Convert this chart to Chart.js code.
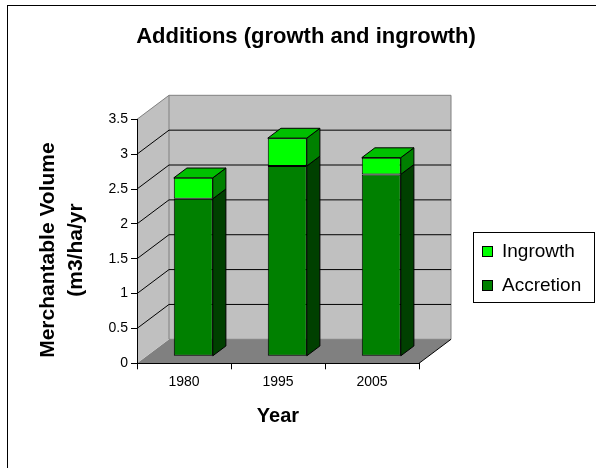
<!DOCTYPE html>
<html>
<head>
<meta charset="utf-8">
<script src="https://cdn.jsdelivr.net/npm/chart.js@4.4.0/dist/chart.umd.min.js"></script>
<style>
  html, body { margin: 0; padding: 0; background: #fff; }
</style>
</head>
<body>
<canvas id="myChart" width="596" height="468"></canvas>
<script>
const years = ['1980', '1995', '2005'];
const accretion = [2.26, 2.73, 2.61];
const ingrowth = [0.30, 0.40, 0.24];
const yMax = 3.5;
const yStep = 0.5;

const FONT = "'Liberation Sans', Arial, sans-serif";
const DX = 32, DY = -24;                  // depth of the 3d box
const BAR_FRONT = 0.29, BAR_BACK = 0.70;  // bar depth as a fraction of the box

function poly(ctx, pts, fill, stroke) {
  ctx.beginPath();
  ctx.moveTo(pts[0][0], pts[0][1]);
  for (let i = 1; i < pts.length; i++) ctx.lineTo(pts[i][0], pts[i][1]);
  ctx.closePath();
  if (fill) { ctx.fillStyle = fill; ctx.fill(); }
  if (stroke) { ctx.strokeStyle = stroke; ctx.lineWidth = 1; ctx.stroke(); }
}

function line(ctx, pts, color) {
  ctx.beginPath();
  ctx.moveTo(pts[0][0], pts[0][1]);
  for (let i = 1; i < pts.length; i++) ctx.lineTo(pts[i][0], pts[i][1]);
  ctx.strokeStyle = color; ctx.lineWidth = 1; ctx.stroke();
}

const box3d = {
  id: 'box3d',
  beforeDraw(chart) {
    const {ctx, chartArea: a, scales: {y}} = chart;
    const L = a.left, R = a.right;
    const top = y.getPixelForValue(yMax), bot = y.getPixelForValue(0);
    ctx.save();
    // chart border
    ctx.strokeStyle = '#000';
    ctx.strokeRect(7.5, 5.5, 620, 500);
    // floor, side wall, back wall
    poly(ctx, [[L, bot], [R, bot], [R + DX, bot + DY], [L + DX, bot + DY]], '#808080', null);
    poly(ctx, [[L, bot], [L, top], [L + DX, top + DY], [L + DX, bot + DY]], '#c0c0c0', null);
    poly(ctx, [[L + DX, top + DY], [R + DX, top + DY], [R + DX, bot + DY], [L + DX, bot + DY]], '#c0c0c0', '#808080');
    line(ctx, [[L, top], [L + DX, top + DY]], '#808080');
    // grid lines on the side and back walls
    for (let v = yStep; v < yMax - 1e-9; v += yStep) {
      const py = y.getPixelForValue(v);
      line(ctx, [[L, py], [L + DX, py + DY], [R + DX, py + DY]], '#000');
    }
    line(ctx, [[R, bot], [R + DX, bot + DY]], '#000');
    ctx.restore();
  },
  beforeDatasetsDraw(chart) {
    const {ctx} = chart;
    const fx = DX * BAR_FRONT, fy = DY * BAR_FRONT;
    const bx = DX * (BAR_BACK - BAR_FRONT), by = DY * (BAR_BACK - BAR_FRONT);
    const last = chart.data.datasets.length - 1;
    ctx.save();
    chart.data.datasets.forEach((ds, di) => {
      chart.getDatasetMeta(di).data.forEach(bar => {
        const {x, y, base, width} = bar.getProps(['x', 'y', 'base', 'width'], true);
        const l = x - width / 2 + fx, r = x + width / 2 + fx;
        const t = y + fy, b = base + fy;
        poly(ctx, [[r, t], [r + bx, t + by], [r + bx, b + by], [r, b]], ds.sideColor, '#000');
        if (di === last) {
          poly(ctx, [[l, t], [r, t], [r + bx, t + by], [l + bx, t + by]], ds.topColor, '#000');
        }
      });
    });
    ctx.restore();
    // front faces are drawn by Chart.js, pushed back into the box
    ctx.save();
    ctx.translate(fx, fy);
  },
  afterDatasetsDraw(chart) {
    chart.ctx.restore();
  },
  afterDraw(chart) {
    const {ctx} = chart;
    ctx.save();
    ctx.fillStyle = '#fff';
    ctx.fillRect(473.5, 232.5, 121, 70);
    ctx.strokeStyle = '#000';
    ctx.strokeRect(473.5, 232.5, 121, 70);
    const items = chart.data.datasets.slice().reverse();
    items.forEach((ds, i) => {
      const cy = 250.5 + i * 34.5;
      ctx.fillStyle = ds.backgroundColor;
      ctx.fillRect(482.5, Math.round(cy - 5) + 0.5, 10, 10);
      ctx.strokeRect(482.5, Math.round(cy - 5) + 0.5, 10, 10);
      ctx.fillStyle = '#000';
      ctx.font = '19px ' + FONT;
      ctx.textBaseline = 'middle';
      ctx.textAlign = 'left';
      ctx.fillText(ds.label, 502, cy + 1);
    });
    ctx.restore();
  }
};

Chart.defaults.font.family = FONT;
Chart.defaults.color = '#000';

new Chart(document.getElementById('myChart'), {
  type: 'bar',
  data: {
    labels: years,
    datasets: [{
      label: 'Accretion',
      data: accretion,
      backgroundColor: '#008000',
      sideColor: '#004000',
      topColor: '#006000',
      borderColor: '#000',
      borderWidth: 1,
      borderSkipped: false
    }, {
      label: 'Ingrowth',
      data: ingrowth,
      backgroundColor: '#00ff00',
      sideColor: '#008000',
      topColor: '#00c000',
      borderColor: '#000',
      borderWidth: 1,
      borderSkipped: false
    }]
  },
  options: {
    responsive: false,
    animation: false,
    devicePixelRatio: 1,
    barPercentage: 0.415,
    categoryPercentage: 1,
    layout: {
      padding: {left: 16, top: 0, right: 0, bottom: 40}
    },
    scales: {
      x: {
        stacked: true,
        offset: true,
        grid: {
          offset: true,
          drawOnChartArea: false,
          tickLength: 6,
          color: '#000'
        },
        border: {color: '#000'},
        ticks: {font: {size: 14}, padding: 4},
        title: {
          display: true,
          text: 'Year',
          font: {size: 20, weight: 'bold', lineHeight: 1.2},
          padding: {top: 0, bottom: 0}
        },
        afterFit(scale) { scale.height = 64.7; }
      },
      y: {
        stacked: true,
        min: 0,
        max: yMax,
        grid: {
          drawOnChartArea: false,
          tickLength: 6,
          color: '#000'
        },
        border: {color: '#000'},
        ticks: {
          stepSize: yStep,
          font: {size: 14},
          padding: 3,
          callback: v => String(v)
        },
        title: {
          display: true,
          // trailing spaces nudge the centred title a little lower, as in the original
          text: ['Merchantable Volume   ', '(m3/ha/yr   '],
          font: {size: 21, weight: 'bold', lineHeight: 1.333},
          padding: {top: 18, bottom: 0}
        },
        afterFit(scale) { scale.width = 121; }
      },
      // empty right-hand box that leaves room for the legend
      space: {
        type: 'linear',
        position: 'right',
        grid: {display: false},
        border: {display: false},
        ticks: {display: false},
        afterFit(scale) { scale.width = 177; }
      }
    },
    plugins: {
      legend: {display: false},
      tooltip: {enabled: false},
      title: {
        display: true,
        text: 'Additions (growth and ingrowth)',
        color: '#000',
        font: {size: 22, weight: 'bold', lineHeight: 1.2},
        padding: {top: 23.5, bottom: 69.4}
      }
    }
  },
  plugins: [box3d]
});
</script>
</body>
</html>
